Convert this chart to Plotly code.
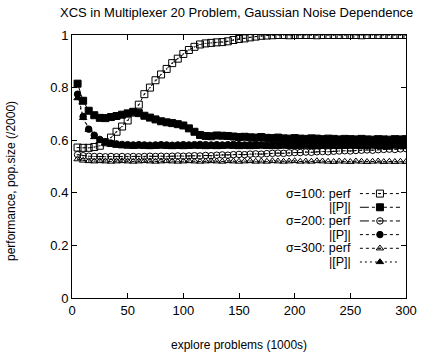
import plotly.graph_objects as go

# ---- data ----
explore_k = list(range(5, 301, 5))  # explore problems (1000s)

perf_s100 = [0.572, 0.571, 0.571, 0.574, 0.579, 0.592, 0.610, 0.632, 0.652, 0.675,
             0.705, 0.735, 0.775, 0.800, 0.828, 0.850, 0.871, 0.893, 0.910, 0.928,
             0.943, 0.955, 0.964, 0.968, 0.970, 0.972, 0.973, 0.976, 0.981, 0.985,
             0.987, 0.991, 0.994, 0.997, 0.998, 0.999, 1.000, 1.000, 0.999, 1.000,
             1.000, 1.000, 1.000, 0.999, 1.000, 1.000, 1.000, 1.000, 1.000, 1.000,
             1.000, 0.999, 1.000, 1.000, 1.000, 1.000, 1.000, 1.000, 1.000, 1.000]

pop_s100 = [0.815, 0.750, 0.712, 0.695, 0.685, 0.684, 0.688, 0.692, 0.697, 0.702,
            0.708, 0.703, 0.693, 0.686, 0.679, 0.672, 0.668, 0.665, 0.661, 0.656,
            0.645, 0.632, 0.620, 0.616, 0.615, 0.618, 0.617, 0.616, 0.614, 0.612,
            0.613, 0.611, 0.610, 0.612, 0.609, 0.608, 0.610, 0.607, 0.606, 0.608,
            0.606, 0.605, 0.607, 0.606, 0.604, 0.606, 0.605, 0.603, 0.605, 0.604,
            0.603, 0.605, 0.603, 0.602, 0.604, 0.603, 0.602, 0.604, 0.603, 0.604]

perf_s200 = [0.545, 0.541, 0.539, 0.538, 0.538, 0.537, 0.538, 0.537, 0.538, 0.537,
             0.538, 0.537, 0.538, 0.539, 0.538, 0.539, 0.538, 0.539, 0.540, 0.539,
             0.540, 0.541, 0.540, 0.542, 0.541, 0.543, 0.544, 0.543, 0.545, 0.546,
             0.545, 0.547, 0.548, 0.547, 0.549, 0.550, 0.551, 0.550, 0.552, 0.553,
             0.553, 0.555, 0.554, 0.556, 0.557, 0.556, 0.558, 0.559, 0.560, 0.559,
             0.561, 0.562, 0.563, 0.562, 0.564, 0.565, 0.566, 0.565, 0.567, 0.568]

pop_s200 = [0.775, 0.690, 0.642, 0.619, 0.603, 0.594, 0.589, 0.586, 0.584, 0.583,
            0.582, 0.583, 0.582, 0.581, 0.582, 0.583, 0.582, 0.581, 0.582, 0.583,
            0.582, 0.583, 0.584, 0.583, 0.582, 0.583, 0.582, 0.583, 0.584, 0.583,
            0.582, 0.583, 0.584, 0.583, 0.582, 0.583, 0.584, 0.583, 0.582, 0.583,
            0.584, 0.583, 0.582, 0.583, 0.584, 0.583, 0.582, 0.583, 0.582, 0.583,
            0.584, 0.583, 0.582, 0.583, 0.582, 0.583, 0.584, 0.583, 0.582, 0.583]

perf_s300 = [0.528, 0.523, 0.521, 0.520, 0.521, 0.520, 0.519, 0.520, 0.521, 0.520,
             0.519, 0.520, 0.521, 0.520, 0.519, 0.520, 0.521, 0.520, 0.519, 0.520,
             0.521, 0.520, 0.519, 0.520, 0.521, 0.520, 0.519, 0.521, 0.520, 0.519,
             0.520, 0.521, 0.519, 0.520, 0.519, 0.521, 0.520, 0.519, 0.520, 0.521,
             0.519, 0.520, 0.519, 0.521, 0.520, 0.519, 0.518, 0.520, 0.519, 0.518,
             0.520, 0.519, 0.518, 0.519, 0.520, 0.518, 0.519, 0.518, 0.519, 0.518]

pop_s300 = [0.760, 0.685, 0.640, 0.612, 0.597, 0.588, 0.582, 0.579, 0.577, 0.576,
            0.575, 0.576, 0.575, 0.574, 0.575, 0.576, 0.575, 0.574, 0.575, 0.574,
            0.575, 0.576, 0.575, 0.574, 0.575, 0.574, 0.575, 0.576, 0.575, 0.574,
            0.575, 0.574, 0.575, 0.576, 0.575, 0.574, 0.575, 0.576, 0.575, 0.574,
            0.575, 0.576, 0.575, 0.574, 0.575, 0.576, 0.575, 0.574, 0.575, 0.576,
            0.575, 0.574, 0.575, 0.576, 0.575, 0.574, 0.575, 0.576, 0.575, 0.576]

series_labels = ["σ=100: perf", "|[P]|", "σ=200: perf", "|[P]|", "σ=300: perf", "|[P]|"]
series_values = [perf_s100, pop_s100, perf_s200, pop_s200, perf_s300, pop_s300]
series_symbols = ["square-open-dot", "square", "circle-open-dot", "circle",
                  "triangle-up-open-dot", "triangle-up"]
series_sizes = [7, 7, 6.5, 6.5, 6.5, 6.5]
series_dash = ["dot", "dashdot", "dashdot", "3px,3px", "dot", "2px,3px"]

x_ticks = [0, 50, 100, 150, 200, 250, 300]
y_ticks = [0, 0.2, 0.4, 0.6, 0.8, 1]
y_tick_text = ["0", "0.2", "0.4", "0.6", "0.8", "1"]

FONT = "Liberation Sans, Arial, sans-serif"

fig = go.Figure()

for vals, sym, sz, dash, name in zip(series_values, series_symbols, series_sizes,
                                     series_dash, series_labels):
    fig.add_trace(go.Scatter(
        x=explore_k, y=vals, mode="lines+markers", name=name, showlegend=False,
        line=dict(color="black", width=1, dash=dash),
        marker=dict(symbol=sym, size=sz, color="black", line=dict(color="black", width=1)),
    ))

# manual gnuplot-style legend (text left, sample right) on an overlay axis in [0,1]
leg_y0, leg_dy = 0.397, 0.052
for i, (sym, sz, dash, name) in enumerate(zip(series_symbols, series_sizes,
                                              series_dash, series_labels)):
    yy = leg_y0 - i * leg_dy
    fig.add_trace(go.Scatter(
        x=[0.862, 0.982], y=[yy, yy], mode="lines", xaxis="x2", yaxis="y2",
        showlegend=False, hoverinfo="skip",
        line=dict(color="black", width=1, dash=dash)))
    fig.add_trace(go.Scatter(
        x=[0.922], y=[yy], mode="markers", xaxis="x2", yaxis="y2",
        showlegend=False, hoverinfo="skip",
        marker=dict(symbol=sym, size=sz, color="black", line=dict(color="black", width=1))))
    fig.add_annotation(x=0.842, y=yy, xref="x2", yref="y2", text=name, showarrow=False,
                       xanchor="right", yanchor="middle",
                       font=dict(family=FONT, size=12.5, color="black"))

axis_common = dict(showline=True, linecolor="black", linewidth=1, mirror="allticks",
                   ticks="inside", ticklen=5, tickcolor="black", showgrid=False,
                   zeroline=False, tickfont=dict(family=FONT, size=13, color="black"))

fig.update_layout(
    width=430, height=358,
    margin=dict(l=72, r=24, t=35, b=60),
    plot_bgcolor="white", paper_bgcolor="white",
    font=dict(family=FONT, size=12, color="black"),
    xaxis=dict(range=[0, 300], tickvals=x_ticks, **axis_common),
    yaxis=dict(range=[0, 1], tickvals=y_ticks, ticktext=y_tick_text, **axis_common),
    xaxis2=dict(range=[0, 1], overlaying="x", visible=False, fixedrange=True),
    yaxis2=dict(range=[0, 1], overlaying="y", visible=False, fixedrange=True),
)

# plot area: x 72..406 px, y 35..298 px
fig.add_annotation(x=(236 - 72) / 334, y=(298 - 13) / 263, xref="paper", yref="paper",
                   text="XCS in Multiplexer 20 Problem, Gaussian Noise Dependence",
                   showarrow=False, xanchor="center", yanchor="middle",
                   font=dict(family=FONT, size=13, color="black"))
fig.add_annotation(x=0.5, y=(298 - 345) / 263, xref="paper", yref="paper",
                   text="explore problems (1000s)", showarrow=False,
                   xanchor="center", yanchor="middle",
                   font=dict(family=FONT, size=12, color="black"))
fig.add_annotation(x=(11 - 72) / 334, y=(298 - 181) / 263, xref="paper", yref="paper",
                   text="performance, pop.size (/2000)", showarrow=False, textangle=-90,
                   xanchor="center", yanchor="middle",
                   font=dict(family=FONT, size=12, color="black"))

fig.write_html("out.html")
